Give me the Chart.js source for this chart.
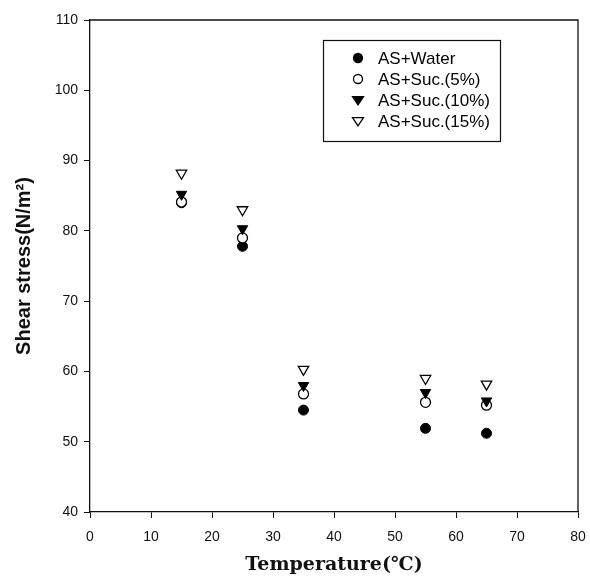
<!DOCTYPE html>
<html>
<head>
<meta charset="utf-8">
<script src="https://cdn.jsdelivr.net/npm/chart.js@4/dist/chart.umd.min.js"></script>
<style>
  html, body { margin: 0; padding: 0; background: #fff; }
  #wrap { width: 590px; height: 579px; }
</style>
</head>
<body>
<div id="wrap"><canvas id="grafico" width="590" height="579"></canvas></div>
<script>
// --- DATI ---
const temperature = [15, 25, 35, 55, 65];
const asWater = [84.0, 77.8, 54.5, 51.9, 51.2];
const asSuc5 = [84.1, 79.0, 56.8, 55.6, 55.2];
const asSuc10 = [85.2, 80.3, 58.0, 57.0, 55.8];
const asSuc15 = [88.2, 83.0, 60.3, 59.0, 58.2];
const etichette = ['AS+Water', 'AS+Suc.(5%)', 'AS+Suc.(10%)', 'AS+Suc.(15%)'];
const xTicks = [0, 10, 20, 30, 40, 50, 60, 70, 80];
const yTicks = [40, 50, 60, 70, 80, 90, 100, 110];

const punti = (ys) => temperature.map((t, i) => ({ x: t, y: ys[i] }));

// --- BORDO E LEGENDA ---
const boxPlugin = {
    id: 'boxPlugin',
    afterDraw(chart) {
        const { ctx, chartArea: a } = chart;
        ctx.save();
        ctx.strokeStyle = '#111';
        ctx.lineWidth = 1.3;
        ctx.beginPath();
        ctx.moveTo(a.left, a.top);
        ctx.lineTo(a.right, a.top);
        ctx.lineTo(a.right, a.bottom);
        ctx.stroke();

        // legenda dentro il grafico
        const bx = 323, by = 40, bw = 177, bh = 101;
        ctx.lineWidth = 1.2;
        ctx.strokeRect(bx + 0.5, by + 0.5, bw, bh);
        ctx.font = '17px "Liberation Sans", Arial, sans-serif';
        ctx.textBaseline = 'middle';
        chart.data.datasets.forEach((ds, i) => {
            const y = by + 18 + i * 21;
            const x = bx + 35;
            ctx.fillStyle = ds.pointBackgroundColor;
            ctx.strokeStyle = '#000';
            ctx.lineWidth = 1.3;
            if (ds.pointStyle === 'circle') {
                ctx.beginPath();
                ctx.arc(x, y, 4.5, 0, Math.PI * 2);
                ctx.fill();
                ctx.stroke();
            } else {
                const r = 5.5;
                ctx.beginPath();
                ctx.moveTo(x - r, y - r * 0.6);
                ctx.lineTo(x + r, y - r * 0.6);
                ctx.lineTo(x, y + r * 0.9);
                ctx.closePath();
                ctx.fill();
                ctx.stroke();
            }
            ctx.fillStyle = '#000';
            ctx.fillText(ds.label, bx + 55, y + 1);
        });
        ctx.restore();
    }
};

const ctx = document.getElementById('grafico').getContext('2d');
new Chart(ctx, {
    type: 'scatter',
    data: {
        datasets: [
            { label: etichette[0], data: punti(asWater), order: 4, pointStyle: 'circle', pointRadius: 5,
              pointBackgroundColor: '#000', pointBorderColor: '#000', pointBorderWidth: 1 },
            { label: etichette[1], data: punti(asSuc5), order: 3, pointStyle: 'circle', pointRadius: 5,
              pointBackgroundColor: '#fff', pointBorderColor: '#000', pointBorderWidth: 1.3 },
            { label: etichette[2], data: punti(asSuc10), order: 2, pointStyle: 'triangle', pointRadius: 6, pointRotation: 180,
              pointBackgroundColor: '#000', pointBorderColor: '#000', pointBorderWidth: 1 },
            { label: etichette[3], data: punti(asSuc15), order: 1, pointStyle: 'triangle', pointRadius: 6, pointRotation: 180,
              pointBackgroundColor: '#fff', pointBorderColor: '#000', pointBorderWidth: 1.3 }
        ]
    },
    options: {
        responsive: false,
        animation: false,
        layout: { padding: { top: 20, right: 12, left: 0, bottom: 0 } },
        plugins: { legend: { display: false }, tooltip: { enabled: false } },
        scales: {
            x: {
                type: 'linear', min: 0, max: 80,
                afterBuildTicks: (s) => { s.ticks = xTicks.map(v => ({ value: v })); },
                afterFit: (s) => { s.height = 67; s.paddingLeft = 0; s.paddingRight = 0; },
                grid: { display: true, drawOnChartArea: false, drawTicks: true, tickLength: 6, color: '#111', lineWidth: 1 },
                border: { display: true, color: '#111', width: 1.3 },
                ticks: { color: '#111', padding: 11, maxRotation: 0,
                         font: { family: '"Liberation Sans", Arial, sans-serif', size: 14 } },
                title: { display: true, text: 'Temperature(℃)', color: '#111', padding: { top: 4, bottom: 3 },
                         font: { family: '"DejaVu Serif", "Liberation Serif", serif', size: 19, weight: 'bold' } }
            },
            y: {
                type: 'linear', min: 40, max: 110,
                afterBuildTicks: (s) => { s.ticks = yTicks.map(v => ({ value: v })); },
                afterFit: (s) => { s.width = 90; s.paddingTop = 0; s.paddingBottom = 0; },
                grid: { display: true, drawOnChartArea: false, drawTicks: true, tickLength: 6, color: '#111', lineWidth: 1 },
                border: { display: true, color: '#111', width: 1.3 },
                ticks: { color: '#111', padding: 6,
                         font: { family: '"Liberation Sans", Arial, sans-serif', size: 14 } },
                title: { display: true, text: 'Shear stress(N/m²)', color: '#111', padding: { top: 12, bottom: 4 },
                         font: { family: '"Liberation Sans", Arial, sans-serif', size: 20, weight: 'bold' } }
            }
        }
    },
    plugins: [boxPlugin]
});
</script>
</body>
</html>
